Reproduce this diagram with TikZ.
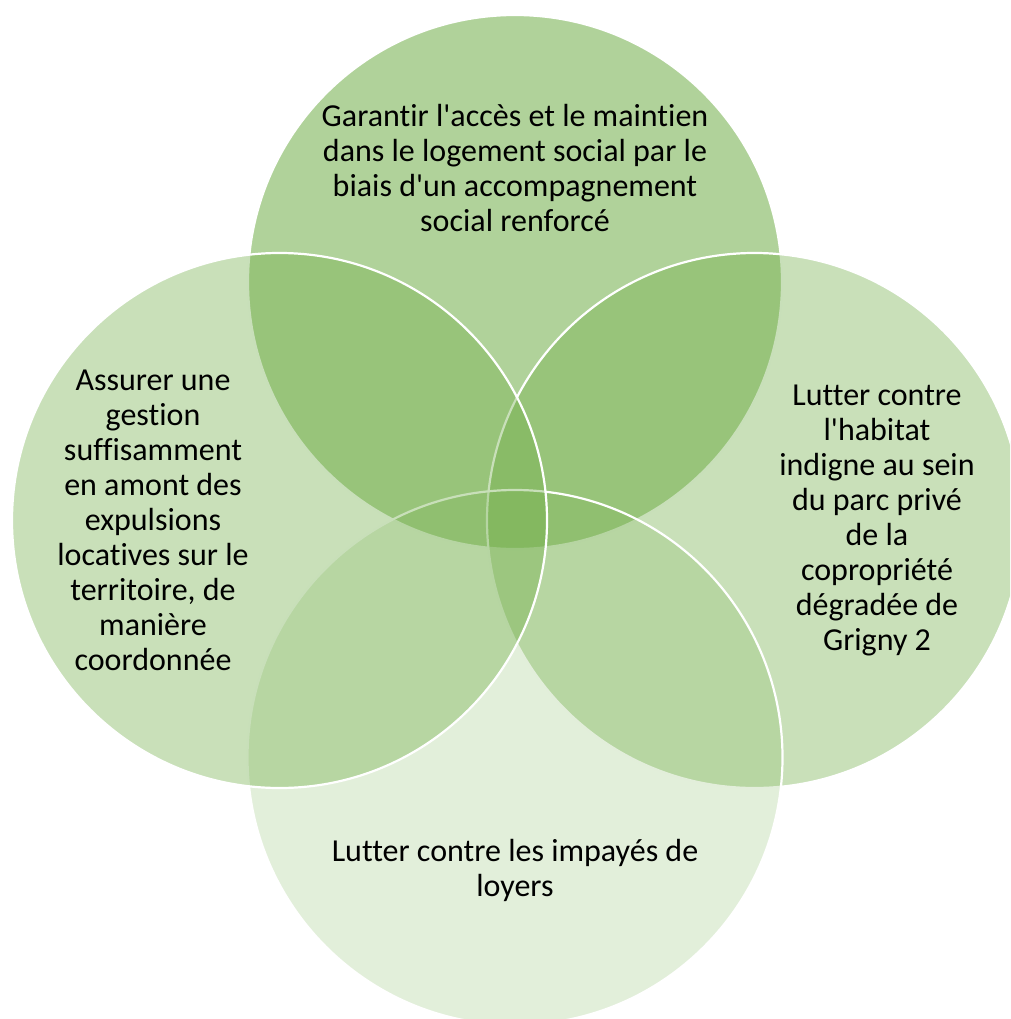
\documentclass[tikz,border=0pt]{standalone}
\usepackage{fontspec}
\setmainfont[Ligatures={NoCommon}]{Carlito}
\definecolor{vgreen}{RGB}{112,173,71}
\newcommand{\aq}{\textquotesingle}
\begin{document}
\begin{tikzpicture}[x=1pt,y=-1pt,
  venn/.style={fill=vgreen},
  vline/.style={draw=white,line width=2.2pt},
  lbl/.style={align=center,text=black,font=\fontsize{32}{35}\selectfont,inner sep=0pt}]
\useasboundingbox (0,0) rectangle (1010,1019);
\begin{scope}
\clip (0,0) rectangle (1010,1019);
% top
\fill[venn,fill opacity=0.55] (515,282) circle (267);
\draw[vline] (515,282) circle (267);
% right
\fill[venn,fill opacity=0.38] (754.5,520.5) circle (267.5);
\draw[vline] (754.5,520.5) circle (267.5);
% bottom
\fill[venn,fill opacity=0.2] (515,757.5) circle (267.5);
\draw[vline] (515,757.5) circle (267.5);
% left
\fill[venn,fill opacity=0.38] (279.5,520.5) circle (267.5);
\draw[vline] (279.5,520.5) circle (267.5);
\end{scope}
\node[lbl] (ttop) at (515,168) {Garantir l\aq accès et le maintien\\dans le logement social par le\\biais d\aq un accompagnement\\social renforcé};
\node[lbl] (tleft) at (153,520) {Assurer une\\gestion\\suffisamment\\en amont des\\expulsions\\locatives sur le\\territoire, de\\manière\\coordonnée};
\node[lbl] (tright) at (877,520) {Lutter contre\\l\aq habitat\\indigne au sein\\du parc privé\\de la\\copropriété\\dégradée de\\Grigny 2};
\node[lbl] (tbottom) at (515,870) {Lutter contre les impayés de\\loyers};
\end{tikzpicture}
\end{document}
